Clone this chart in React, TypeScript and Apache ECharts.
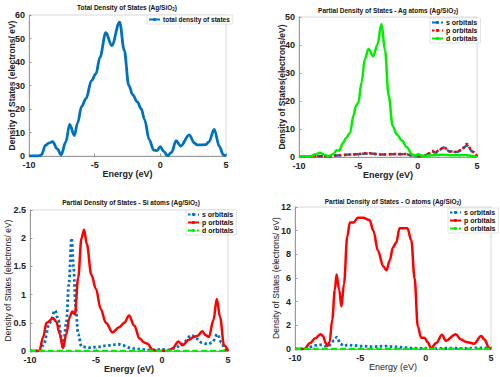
import React, { useEffect, useRef } from "react";
import * as echarts from "echarts";

// ---- Panel 1: total DOS ----
const totalE = [-10, -9.3, -9.05, -8.75, -8.5, -8.2, -7.85, -7.55, -7.2, -6.9, -6.55, -6.3, -6.0, -5.65, -5.25, -4.9, -4.6, -4.15, -3.7, -3.1, -2.75, -2.4, -2.1, -1.75, -1.45, -1.2, -0.85, -0.5, -0.25, 0.0, 0.25, 0.55, 0.85, 1.2, 1.55, 2.2, 2.6, 2.8, 3.45, 3.7, 4.1, 4.5, 4.8, 5];
const totalDos = [0, 0, 0.5, 4.5, 5.5, 6.1, 3, 0.5, 6, 13.5, 8.7, 14, 21, 24.5, 32, 35, 42, 52.5, 47, 57, 45, 30, 26, 23, 20, 15.5, 7, 2.5, 2.3, 4, 2, 0.1, 1.5, 6.5, 4.2, 9, 5.5, 4.7, 4.8, 6, 11.3, 4, 0.5, 0];

// ---- Panel 2: Ag atoms ----
const agDE = [-10, -9, -8.6, -8.25, -7.85, -7.55, -7.1, -6.85, -6.6, -6.3, -6.0, -5.7, -5.4, -5.2, -5.0, -4.73, -4.45, -4.15, -3.75, -3.4, -3.05, -2.75, -2.45, -2.1, -1.75, -1.35, -0.9, -0.5, -0.2, 0.05, 0.35, 0.7, 1.2, 2.0, 3.0, 4.0, 4.6, 5];
const agD = [0.2, 0.3, 1, 1.5, 0.8, 0.2, 1, 2.4, 2.3, 5, 7, 8.6, 15, 18.2, 19.4, 26.6, 35, 38.6, 36, 40, 47.5, 38, 22, 11, 8, 6, 3.5, 1, 0.4, 1, 0.5, 0.4, 0.6, 0.8, 0.6, 0.7, 0.4, 0];
const agSPE = [-10, -9, -8.2, -7.5, -7, -6.5, -6, -5.5, -5, -4.5, -4, -3.5, -3, -2.5, -2, -1.5, -1, -0.5, 0, 0.5, 0.9, 1.2, 1.5, 1.8, 2.2, 2.7, 3.3, 3.65, 4.15, 4.6, 5];
const agS = [0.1, 0.2, 0.3, 0.2, 0.5, 0.6, 0.8, 0.9, 1.0, 1.2, 1.3, 1.1, 0.9, 0.9, 1.0, 1.0, 1.0, 0.5, 0.3, 0.3, 1.2, 2.2, 1.5, 2.5, 3.4, 2.0, 1.8, 2.4, 4.1, 2.0, 0.2];
const agP = [0.1, 0.2, 0.3, 0.2, 0.5, 0.6, 0.8, 0.9, 1.1, 1.3, 1.3, 1.1, 0.9, 1.0, 1.1, 1.1, 1.1, 0.6, 0.3, 0.3, 1.2, 2.1, 1.5, 2.5, 3.5, 2.0, 1.8, 2.5, 4.6, 2.0, 0.2];

// ---- Panel 3: Si atoms ----
const siPE = [-10, -9.3, -9.0, -8.75, -8.25, -8.0, -7.75, -7.5, -7.25, -7.0, -6.8, -6.6, -6.35, -6.1, -5.9, -5.7, -5.35, -5.0, -4.65, -4.25, -3.75, -3.25, -2.85, -2.5, -2.1, -1.7, -1.35, -1.1, -0.7, -0.3, 0.5, 0.8, 1.25, 1.55, 2.05, 2.4, 2.7, 3.05, 3.3, 3.55, 3.9, 4.15, 4.4, 4.7, 5];
const siP = [0, 0, 0.25, 0.5, 0.58, 0.52, 0.3, 0.05, 0.3, 0.6, 0.7, 0.65, 1.3, 2.0, 2.15, 1.9, 1.35, 1.1, 0.75, 0.5, 0.33, 0.42, 0.5, 0.63, 0.45, 0.22, 0.15, 0.13, 0.02, 0, 0, 0.05, 0.17, 0.1, 0.2, 0.25, 0.27, 0.35, 0.28, 0.25, 0.55, 0.92, 0.6, 0.1, 0];
const siSE = [-10, -9.2, -9.0, -8.5, -8.1, -7.85, -7.6, -7.5, -7.25, -7.05, -6.85, -6.7, -6.55, -6.35, -6.1, -5.5, -5.0, -4.0, -3.3, -3.0, -2.5, -2.0, -1.5, -1.0, -0.5, 0, 0.5, 1.0, 1.5, 2.25, 2.6, 3.0, 3.5, 3.8, 4.2, 4.5, 4.8, 5];
const siS = [0, 0, 0.1, 0.5, 0.72, 0.55, 0.2, 0.05, 0.5, 1.2, 2.0, 1.5, 0.8, 0.3, 0.08, 0.06, 0.07, 0.1, 0.12, 0.1, 0.06, 0.04, 0.03, 0.02, 0.02, 0.03, 0.02, 0.05, 0.12, 0.28, 0.22, 0.15, 0.12, 0.15, 0.3, 0.15, 0.02, 0];
const siDE = [-10, 5];
const siD = [0, 0];

// ---- Panel 4: O atoms ----
const oPE = [-10, -9.3, -9.25, -8.85, -8.45, -8.05, -7.85, -7.65, -7.5, -7.35, -7.15, -6.95, -6.82, -6.62, -6.45, -6.25, -6.0, -5.8, -5.5, -5.2, -4.8, -4.3, -4.0, -3.65, -3.25, -3.0, -2.75, -2.5, -2.25, -2.0, -1.75, -1.4, -1.1, -0.85, -0.6, -0.35, -0.1, 0.15, 0.42, 0.8, 1.25, 1.55, 2.3, 2.7, 3.1, 3.7, 4.25, 4.5, 4.85, 5];
const oP = [0, 0, 0.05, 0.5, 0.9, 1.25, 1.1, 0.5, 0.25, 0.6, 2.5, 5, 6.3, 5, 3.6, 5.5, 9.5, 10.7, 10.7, 11.1, 11.1, 10.9, 10.0, 8.3, 7.0, 6.65, 7.5, 8.6, 9.0, 10.2, 10.2, 10.2, 9.2, 6, 1.9, 0.95, 0.95, 0.6, 0.05, 0.5, 1.2, 0.7, 1.25, 0.8, 0.6, 0.45, 1.1, 0.8, 0.1, 0];
const oSE = [-10, -9.3, -9.0, -8.5, -8.0, -7.5, -7.0, -6.8, -6.5, -6.2, -6.0, -5.5, -5.0, -4.0, -3.0, -2.5, -2.0, -1.5, -1.0, -0.5, 0, 0.5, 1.0, 2.0, 3.0, 4.0, 4.5, 5];
const oS = [0, 0, 0.1, 0.3, 0.35, 0.2, 0.7, 1.0, 0.4, 0.25, 0.35, 0.3, 0.25, 0.2, 0.25, 0.2, 0.15, 0.12, 0.08, 0.05, 0.05, 0.03, 0.05, 0.08, 0.05, 0.1, 0.1, 0];
const oDE = [-10, 5];
const oD = [0, 0];

const xTicks = { min: -10, max: 5, interval: 5 };
const yRanges = [
  { max: 60, interval: 10 },
  { max: 50, interval: 10 },
  { max: 2.5, interval: 0.5 },
  { max: 12, interval: 2 },
];
const titles = [
  ["Total Density of States (Ag/SiO", ")"],
  ["Partial Density of States - Ag atoms (Ag/SiO", ")"],
  ["Partial Density of States - Si atoms (Ag/SiO", ")"],
  ["Partial Density of States - O atoms (Ag/SiO", ")"],
];
const yNames = [
  "Density of States (electrons/ eV)",
  "Density of States(electrons/eV)",
  "Density of States (electrons/ eV)",
  "Density of States (electrons/ eV)",
];

const BLUE = "#0072BD";
const RED = "#FF0000";
const GREEN = "#00EE00";

const zip = (xs: number[], ys: number[]) => xs.map((x, i) => [x, ys[i]]);

export default function App() {
  const ref = useRef<HTMLDivElement>(null);
  useEffect(() => {
    if (!ref.current) return;
    const chart = echarts.init(ref.current, null, { renderer: "svg" });
    const grids = [
      { left: 29, top: 15, width: 197, height: 141 },
      { left: 299, top: 17, width: 178, height: 140 },
      { left: 30, top: 210, width: 198, height: 141 },
      { left: 295, top: 207, width: 196, height: 142 },
    ];
    const titlePos = [
      { x: 127, y: 2 },
      { x: 388, y: 5 },
      { x: 131, y: 197 },
      { x: 393, y: 196 },
    ];
    const yGaps = [13, 13, 18, 15];
    const font = "Liberation Sans, Arial, sans-serif";
    const dotted = [2.5, 2.5];
    const dashed = [6, 3];
    const mkLine = (name: string, data: number[][], color: string, type: any, grid: number, width = 2.5) => ({
      type: "line",
      name,
      xAxisIndex: grid,
      yAxisIndex: grid,
      data,
      symbol: "none",
      smooth: 0.35,
      smoothMonotone: "x",
      lineStyle: { color, width, type, cap: "butt" },
      itemStyle: { color },
      z: 3,
    });
    const legendBase = (names: string[], left: number, top: number, fs: number) => ({
      data: names,
      left,
      top,
      orient: "vertical",
      itemWidth: 11,
      itemHeight: 4,
      itemGap: 1,
      padding: [1, 3, 1, 1],
      backgroundColor: "#fff",
      borderColor: "#d0d0d0",
      borderWidth: 0.6,
      formatter: (n: string) => n.trim(),
      textStyle: { fontSize: fs, fontWeight: "bold", color: "#111", fontFamily: font, padding: [0, 0, 0, -2], lineHeight: 7 },
      selectedMode: false,
    });
    const option: any = {
      animation: false,
      backgroundColor: "#fff",
      title: titles.map((t, i) => ({
        text: `{a|${t[0]}}{b|2}{a|${t[1]}}`,
        left: titlePos[i].x,
        top: titlePos[i].y,
        textAlign: "center",
        padding: 0,
        textStyle: {
          rich: {
            a: { fontSize: 6.5, fontWeight: "bold", color: "#111", fontFamily: font, lineHeight: 10, verticalAlign: "middle" },
            b: { fontSize: 4.5, fontWeight: "bold", color: "#111", fontFamily: font, lineHeight: 4, verticalAlign: "bottom" },
          },
        },
      })),
      grid: grids.map((g) => ({ ...g, show: true, borderColor: "#d8d8d8", borderWidth: 1, backgroundColor: "transparent" })),
      xAxis: grids.map((_, i) => ({
        type: "value",
        gridIndex: i,
        ...xTicks,
        name: "Energy (eV)",
        nameLocation: "middle",
        nameGap: 13,
        nameMoveOverlap: false,
        nameTextStyle: { fontSize: 9, fontWeight: i < 3 ? "bold" : "normal", color: "#222", fontFamily: font },
        axisLine: { show: true, onZero: false, lineStyle: { color: "#999", width: 1 } },
        axisTick: { show: true, inside: true, length: 2.5, lineStyle: { color: "#999" } },
        axisLabel: { fontSize: 9, fontWeight: "bold", color: "#222", fontFamily: font, margin: 4 },
        splitLine: { show: false },
      })),
      yAxis: grids.map((_, i) => ({
        type: "value",
        gridIndex: i,
        min: 0,
        ...yRanges[i],
        name: yNames[i],
        nameLocation: "middle",
        nameGap: yGaps[i],
        nameMoveOverlap: false,
        nameTextStyle: { fontSize: 8.5, fontWeight: i < 2 ? "bold" : "normal", color: "#222", fontFamily: font },
        axisLine: { show: true, onZero: false, lineStyle: { color: "#999", width: 1 } },
        axisTick: { show: true, inside: true, length: 2.5, lineStyle: { color: "#999" } },
        axisLabel: { fontSize: 9, fontWeight: "bold", color: "#222", fontFamily: font, margin: 4 },
        splitLine: { show: false },
      })),
      legend: [
        legendBase(["total density of states"], 147, 15, 6.5),
        legendBase(["s orbitals", "p orbitals", "d orbitals"], 430, 18, 7),
        legendBase(["s orbitals ", "p orbitals ", "d orbitals "], 186, 210, 7),
        legendBase(["s orbitals  ", "p orbitals  ", "d orbitals  "], 448, 208, 7),
      ],
      series: [
        mkLine("total density of states", zip(totalE, totalDos), BLUE, "solid", 0, 2.8),
        mkLine("s orbitals", zip(agSPE, agS), BLUE, dashed, 1),
        mkLine("p orbitals", zip(agSPE, agP), RED, dotted, 1),
        mkLine("d orbitals", zip(agDE, agD), GREEN, "solid", 1),
        mkLine("s orbitals ", zip(siSE, siS), BLUE, dotted, 2, 2.8),
        mkLine("p orbitals ", zip(siPE, siP), RED, "solid", 2),
        mkLine("d orbitals ", zip(siDE, siD), GREEN, dashed, 2),
        mkLine("s orbitals  ", zip(oSE, oS), BLUE, dotted, 3, 2.8),
        mkLine("p orbitals  ", zip(oPE, oP), RED, "solid", 3),
        mkLine("d orbitals  ", zip(oDE, oD), GREEN, dashed, 3),
      ],
    };
    chart.setOption(option);
    return () => chart.dispose();
  }, []);
  return (
    <div
      ref={ref}
      style={{ width: 500, height: 377, position: "absolute", left: 0, top: 0 }}
    />
  );
}
